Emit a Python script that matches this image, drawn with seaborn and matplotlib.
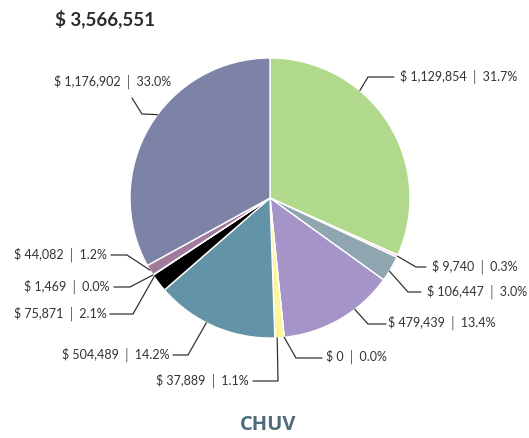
import numpy as np
import matplotlib
matplotlib.use("Agg")
import matplotlib.pyplot as plt
import seaborn as sns

# ---- data ----
TOTAL = 3566551
labels_amt = [1129854, 9740, 106447, 479439, 0, 37889, 504489, 75871, 1469, 44082, 1176902]
labels_pct = [31.7, 0.3, 3.0, 13.4, 0.0, 1.1, 14.2, 2.1, 0.0, 1.2, 33.0]
colors = ["#b1d98b", "#f5c6d8", "#8fa6b1", "#a494c8", "#fdf49a", "#fef59b",
          "#6393a7", "#000000", "#cfcfcf", "#a27a9c", "#7d83a7"]
site = "CHUV"

# ---- label layout (pixel coords, y down) ----
W, H = 529, 438
CX, CY, R = 270, 198, 140
anchor_frac = [0.35, 0.5, 0.6, 0.35, 0.5, 0.75, 0.57, 0.9, 0.5, 0.5, 0.55]
elbows = [(368, 77), (416, 267), (408, 292), (368, 324), (296, 358), (278, 381),
          (188, 355), (133, 314), (130, 287), (127, 255), (142, 114)]
ends = [(394, 77), (426, 267), (421, 292), (386, 324), (322, 358), (253, 381),
        (173, 355), (110, 314), (114, 287), (111, 255), (132, 98)]
texts = [(400, 77, "left"), (432, 267, "left"), (427, 292, "left"), (388, 323, "left"),
         (326, 357, "left"), (249, 381, "right"), (169, 355, "right"), (107, 314, "right"),
         (110, 287, "right"), (107, 255, "right"), (113, 82, "center")]

sns.set_theme(style="white")
plt.rcParams["font.family"] = ["Lato", "DejaVu Sans"]

fig = plt.figure(figsize=(W / 100, H / 100), dpi=100)
ax = fig.add_axes([0, 0, 1, 1])

def fy(y):
    return H - y

ax.pie(labels_amt, colors=colors, startangle=90, counterclock=False,
       center=(CX, fy(CY)), radius=R, frame=True,
       wedgeprops=dict(edgecolor="white", linewidth=1))
ax.set_xlim(0, W)
ax.set_ylim(0, H)
ax.set_aspect("equal")
ax.axis("off")

vals = np.array(labels_amt, dtype=float)
cum = np.concatenate([[0], np.cumsum(vals)]) / vals.sum() * 360

for i, (amt, pct) in enumerate(zip(labels_amt, labels_pct)):
    th = np.radians(cum[i] + anchor_frac[i] * (cum[i + 1] - cum[i]))
    px = CX + R * np.sin(th)
    py = CY - R * np.cos(th)
    ex, ey = elbows[i]
    nx, ny = ends[i]
    ax.plot([px, ex, nx], [fy(py), fy(ey), fy(ny)], color="#333333", lw=0.9,
            solid_joinstyle="miter")
    tx, ty, ha = texts[i]
    ax.text(tx, fy(ty), f"$ {amt:,} \u2502 {pct:.1f}%", ha=ha, va="center",
            fontsize=9, color="#333333")

ax.text(55, fy(19), f"$ {TOTAL:,}", ha="left", va="center", fontsize=13.5,
        fontweight="bold", color="#2b2b2b")
ax.text(268, fy(425), site, ha="center", va="center", fontsize=14.5,
        fontweight="bold", color="#4e6b7a", family=["Open Sans", "DejaVu Sans"])

fig.savefig("out.png", dpi=100, facecolor="white")
